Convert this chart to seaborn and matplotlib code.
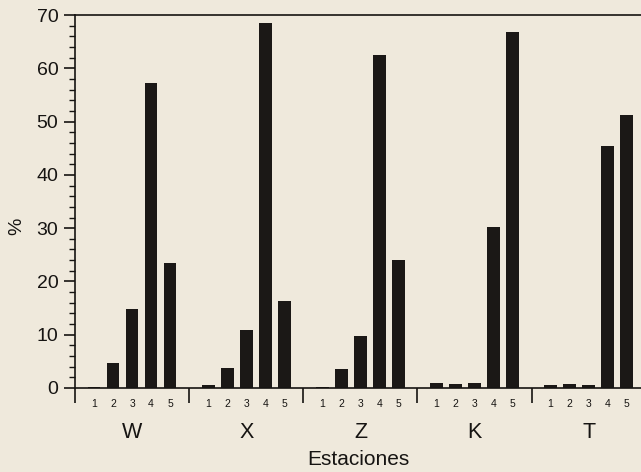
import matplotlib
matplotlib.use("Agg")
import matplotlib.pyplot as plt
import matplotlib.transforms as mtransforms
import seaborn as sns
import pandas as pd

groups = ["W", "X", "Z", "K", "T"]
stations = ["1", "2", "3", "4", "5"]
W = [0.2, 4.6, 14.9, 57.2, 23.4]
X = [0.6, 3.8, 10.8, 68.5, 16.4]
Z = [0.2, 3.6, 9.7, 62.5, 24.1]
K = [0.9, 0.8, 0.9, 30.2, 66.8]
T = [0.6, 0.7, 0.5, 45.5, 51.3]
series = [W, X, Z, K, T]

rows = []
for g, vals in enumerate(series):
    for s, v in enumerate(vals):
        rows.append({"pos": g * 6 + s + 1, "value": v, "grupo": groups[g], "est": stations[s]})
df = pd.DataFrame(rows)

sns.set_theme(style="ticks")
plt.rcParams["font.family"] = ["Liberation Sans", "DejaVu Sans"]

bg = "#efe9dc"
ink = "#161412"
fig = plt.figure(figsize=(6.41, 4.72), dpi=100, facecolor=bg)
ax = fig.add_axes([0.117, 0.178, 0.883, 0.79])
ax.set_facecolor(bg)

sns.barplot(data=df, x="pos", y="value", native_scale=True, width=0.67,
            color="#1b1816", saturation=1, edgecolor="none", ax=ax, errorbar=None)

ax.set_xlim(0, 29.75)
ax.set_ylim(0, 70)

for sp in ["left", "bottom", "top"]:
    ax.spines[sp].set_color(ink)
    ax.spines[sp].set_linewidth(1.2)
ax.spines["right"].set_visible(False)

# y ticks
ax.set_yticks(range(0, 71, 10))
ax.set_yticks(range(0, 71, 2), minor=True)
ax.tick_params(axis="y", which="major", direction="out", length=8, width=1.2,
               labelsize=14, colors=ink, pad=4)
ax.tick_params(axis="y", which="minor", direction="out", length=4.5, width=1.0, colors=ink)

# x: group separator ticks as major, station numbers as minor labels
ax.set_xticks([0, 6, 12, 18, 24])
ax.set_xticklabels([""] * 5)
ax.tick_params(axis="x", which="major", direction="out", length=11, width=1.2, colors=ink)
ax.set_xticks(df["pos"].tolist(), minor=True)
ax.set_xticklabels(df["est"].tolist(), minor=True)
ax.tick_params(axis="x", which="minor", length=0, labelsize=7.5, pad=8, colors=ink)

trans = mtransforms.blended_transform_factory(ax.transData, ax.transAxes)
for g, name in enumerate(groups):
    ax.text(g * 6 + 3, -0.12, name, transform=trans, ha="center", va="center",
            fontsize=15.5, color=ink)

ax.set_xlabel("Estaciones", fontsize=15, color=ink)
ax.xaxis.set_label_coords(0.5, -0.165, transform=ax.transAxes)
ax.set_ylabel("%", fontsize=14, color=ink)
ax.yaxis.set_label_coords(-0.088, 0.434)

fig.savefig("out.png", dpi=100, facecolor=bg)
